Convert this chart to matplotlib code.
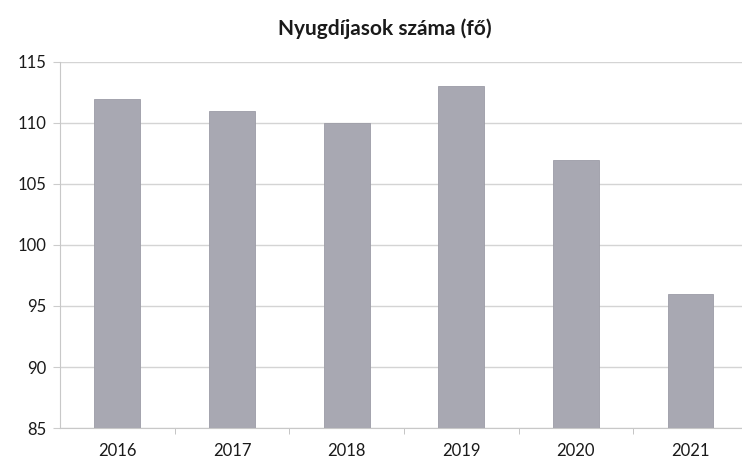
import matplotlib
matplotlib.use('Agg')
import matplotlib.pyplot as plt
import numpy as np

years = ['2016', '2017', '2018', '2019', '2020', '2021']
pensioners = [112, 111, 110, 113, 107, 96]
y_ticks = [85, 90, 95, 100, 105, 110, 115]

plt.rcParams['font.family'] = ['Lato', 'DejaVu Sans']

fig = plt.figure(figsize=(7.42, 4.59), dpi=100)
ax = fig.add_axes([0.0809, 0.0675, 0.927, 0.7975])

x = np.arange(len(years))
ax.bar(x, [v - 85 for v in pensioners], bottom=85, width=0.4,
       color='#a8a8b2', edgecolor='#9c9ca6', linewidth=0.6, zorder=3)

ax.set_xlim(-0.5, len(years) - 0.5)
ax.set_ylim(85, 115)
ax.set_yticks(y_ticks)
ax.set_yticklabels([str(t) for t in y_ticks], fontsize=12, color='#1a1a1a')
ax.set_xticks(x)
ax.set_xticklabels(years, fontsize=12, color='#1a1a1a')

# small category separators along the bottom
ax.set_xticks(np.arange(0.5, len(years) - 0.5, 1.0), minor=True)
ax.tick_params(axis='x', which='major', length=0, pad=11)
ax.tick_params(axis='x', which='minor', length=4, color='#bbbbbb', direction='out')
ax.tick_params(axis='y', length=5, color='#cccccc', pad=5)

ax.grid(axis='y', color='#d4d4d4', linewidth=1.0, zorder=0)
for side in ['top', 'right']:
    ax.spines[side].set_visible(False)
ax.spines['left'].set_color('#c8c8c8')
ax.spines['bottom'].set_color('#c8c8c8')

fig.text(0.518, 0.937, 'Nyugdíjasok száma (fő)', ha='center', va='center',
         fontsize=15, fontweight='bold', color='#1a1a1a')

fig.savefig('out.png', dpi=100, facecolor='white')
